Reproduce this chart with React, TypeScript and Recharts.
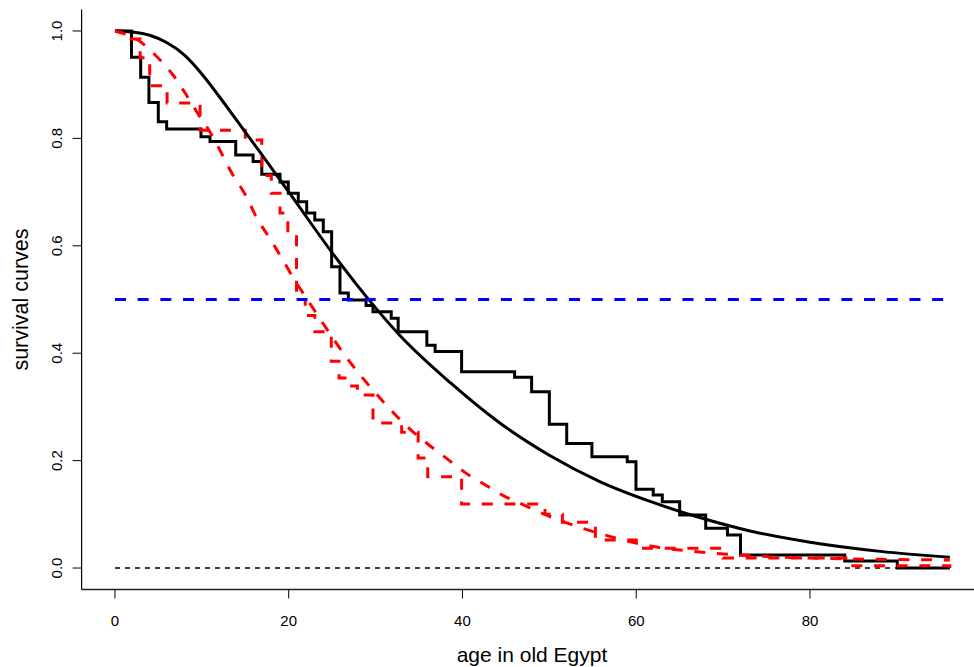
import React from 'react';
import { LineChart, Line, XAxis, YAxis, Label } from 'recharts';

// empirical survival (black step)
const blackStepAge = [0, 1.9, 2.96, 3.91, 4.99, 5.95, 9.9, 10.94, 13.9, 15.9, 16.9, 19.0, 19.95, 21.1, 22.07, 23.0, 23.98, 24.94, 25.9, 26.86, 28.9, 29.7, 31.8, 32.6, 35.9, 36.85, 39.9, 46.0, 47.96, 50.0, 52.0, 54.9, 58.97, 59.97, 61.96, 63.0, 65.0, 68.0, 70.5, 72.0, 84.0, 90.05, 96.1];
const blackStepS = [1.0, 0.951, 0.914, 0.867, 0.831, 0.8175, 0.803, 0.794, 0.769, 0.757, 0.733, 0.719, 0.698, 0.682, 0.661, 0.648, 0.626, 0.561, 0.512, 0.499, 0.489, 0.477, 0.465, 0.44, 0.415, 0.403, 0.3656, 0.355, 0.328, 0.2676, 0.232, 0.207, 0.198, 0.1466, 0.136, 0.1235, 0.0987, 0.0739, 0.0615, 0.0242, 0.013, 0, 0];

// empirical survival (red dashed step)
const redStepAge = [0, 1.5, 2.9, 4.0, 6.0, 9.8, 15.0, 16.9, 18.0, 19.0, 19.9, 20.9, 21.9, 23.0, 24.9, 25.8, 26.8, 27.9, 29.7, 33.0, 34.9, 36.0, 39.9, 49.5, 51.5, 55.3, 60.0, 70.0, 84.5, 96.1];
const redStepS = [1.0, 0.985, 0.95, 0.898, 0.866, 0.815, 0.797, 0.731, 0.698, 0.661, 0.624, 0.5, 0.47, 0.44, 0.385, 0.354, 0.339, 0.322, 0.27, 0.253, 0.205, 0.17, 0.119, 0.1, 0.085, 0.052, 0.037, 0.0187, 0.004, 0];

// fitted survival (black solid)
const blackFitAge = [0, 2, 4, 6, 8, 10, 12, 14, 16.8, 20.1, 25.1, 29.0, 32.8, 38.6, 44.3, 50.0, 55.8, 61.6, 67.3, 73.1, 80.0, 88.1, 96.1];
const blackFitS = [1.0, 0.998, 0.992, 0.978, 0.955, 0.92, 0.878, 0.834, 0.772, 0.698, 0.585, 0.504, 0.433, 0.345, 0.27, 0.21, 0.161, 0.124, 0.094, 0.069, 0.048, 0.031, 0.02];

// fitted survival (red dashed)
const redFitAge = [0, 2.65, 4.83, 6.68, 8.06, 9.55, 10.94, 13.58, 15.08, 16.35, 17.78, 19.28, 20.6, 22.1, 23.6, 26.7, 30.2, 34.2, 36.0, 38.1, 40.2, 42.5, 44.8, 47.1, 49.6, 52.0, 54.4, 57.6, 61.6, 67.3, 74.2, 84.6, 96.1];
const redFitS = [1.0, 0.983, 0.952, 0.918, 0.885, 0.846, 0.812, 0.732, 0.693, 0.651, 0.615, 0.575, 0.538, 0.501, 0.464, 0.391, 0.322, 0.255, 0.231, 0.205, 0.179, 0.156, 0.134, 0.117, 0.099, 0.084, 0.071, 0.056, 0.041, 0.03, 0.022, 0.017, 0.015];

// reference lines
const refAge = [0, 96.1];
const medianLevel = [0.5, 0.5];
const zeroLevel = [0, 0];

const xTicks = [0, 20, 40, 60, 80];
const yTicks = [0, 0.2, 0.4, 0.6, 0.8, 1.0];

const toPoints = (xs: number[], ys: number[]) => xs.map((x, i) => ({ x, y: ys[i] }));

const FONT = '"Liberation Sans", Arial, Helvetica, sans-serif';

const XTick = (props: any) => {
  const { x, y, payload } = props;
  return (
    <text x={x} y={y + 25} textAnchor="middle" fontSize={15} fontFamily={FONT} fill="#000">
      {payload.value}
    </text>
  );
};

const YTick = (props: any) => {
  const { x, y, payload } = props;
  const bx = x - 8.5;
  return (
    <text x={bx} y={y} transform={`rotate(-90, ${bx}, ${y})`} textAnchor="middle" fontSize={15} fontFamily={FONT} fill="#000">
      {Number(payload.value).toFixed(1)}
    </text>
  );
};

export default function App() {
  return (
    <div style={{ position: 'absolute', left: 0, top: 0, width: 974, height: 667, background: '#fff' }}>
      <LineChart width={974} height={667} margin={{ top: 9.5, right: 0, bottom: 0, left: 0 }}>
        <XAxis
          type="number"
          dataKey="x"
          domain={[-3.84, 98.88]}
          ticks={xTicks}
          interval={0}
          height={77.5}
          tickSize={9}
          axisLine={{ stroke: '#222', strokeWidth: 1.5 }}
          tickLine={{ stroke: '#000' }}
          tick={<XTick />}
          allowDataOverflow
          label={
            <Label
              content={() => (
                <text x={532} y={661.5} textAnchor="middle" fontSize={21} fontFamily={FONT} fill="#000">
                  age in old Egypt
                </text>
              )}
            />
          }
        />
        <YAxis
          type="number"
          dataKey="y"
          domain={[-0.04, 1.04]}
          ticks={yTicks}
          interval={0}
          width={81.6}
          tickSize={9}
          axisLine={{ stroke: '#000', strokeWidth: 1.2 }}
          tickLine={{ stroke: '#000' }}
          tick={<YTick />}
          allowDataOverflow
          label={
            <Label
              content={() => (
                <text x={28} y={299.5} transform="rotate(-90, 28, 299.5)" textAnchor="middle" fontSize={21.5} fontFamily={FONT} fill="#000">
                  survival curves
                </text>
              )}
            />
          }
        />
        <Line data={toPoints(refAge, zeroLevel)} dataKey="y" type="linear" stroke="#000" strokeWidth={1.6} strokeDasharray="5 5" dot={false} activeDot={false} isAnimationActive={false} />
        <Line data={toPoints(blackStepAge, blackStepS)} dataKey="y" type="stepAfter" stroke="#000" strokeWidth={3} dot={false} activeDot={false} isAnimationActive={false} />
        <Line data={toPoints(redStepAge, redStepS)} dataKey="y" type="stepAfter" stroke="#ff0000" strokeWidth={3} strokeDasharray="11 11.7" dot={false} activeDot={false} isAnimationActive={false} />
        <Line data={toPoints(blackFitAge, blackFitS)} dataKey="y" type="monotone" stroke="#000" strokeWidth={3} dot={false} activeDot={false} isAnimationActive={false} />
        <Line data={toPoints(redFitAge, redFitS)} dataKey="y" type="monotone" stroke="#ff0000" strokeWidth={3} strokeDasharray="11 11.7" dot={false} activeDot={false} isAnimationActive={false} />
        <Line data={toPoints(refAge, medianLevel)} dataKey="y" type="linear" stroke="#0000ff" strokeWidth={3} strokeDasharray="11 11.7" dot={false} activeDot={false} isAnimationActive={false} />
      </LineChart>
    </div>
  );
}
